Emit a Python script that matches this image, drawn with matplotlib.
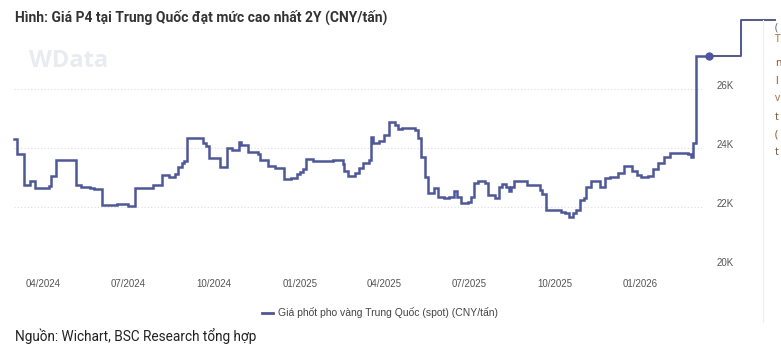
import matplotlib
matplotlib.use("Agg")
import matplotlib.pyplot as plt
import matplotlib.dates as mdates
import matplotlib.transforms as mtrans
from matplotlib.lines import Line2D
import pandas as pd

# ---- data (step breakpoints) ----
dates = [
    "2024-03-01", "2024-03-04", "2024-03-12", "2024-03-18", "2024-03-24", "2024-04-08",
    "2024-04-10", "2024-04-15", "2024-05-06", "2024-05-12", "2024-05-21", "2024-05-26",
    "2024-06-03", "2024-06-19", "2024-07-01", "2024-07-09", "2024-07-28", "2024-08-06",
    "2024-08-14", "2024-08-20", "2024-08-24", "2024-08-28", "2024-08-30", "2024-09-02",
    "2024-09-19", "2024-09-23", "2024-09-26", "2024-10-08", "2024-10-15", "2024-10-21",
    "2024-10-28", "2024-10-30", "2024-11-07", "2024-11-17", "2024-11-19", "2024-11-28",
    "2024-12-06", "2024-12-15", "2024-12-23", "2024-12-29", "2025-01-01", "2025-01-05",
    "2025-01-08", "2025-01-15", "2025-02-06", "2025-02-16", "2025-02-18", "2025-02-22",
    "2025-03-01", "2025-03-05", "2025-03-10", "2025-03-16", "2025-03-18", "2025-03-20",
    "2025-03-27", "2025-04-01", "2025-04-07", "2025-04-13", "2025-04-16", "2025-04-21",
    "2025-05-05", "2025-05-08", "2025-05-11", "2025-05-15", "2025-05-18", "2025-05-25",
    "2025-05-29", "2025-06-05", "2025-06-10", "2025-06-15", "2025-06-19", "2025-06-23",
    "2025-06-30", "2025-07-04", "2025-07-07", "2025-07-11", "2025-07-19", "2025-07-22",
    "2025-07-29", "2025-08-03", "2025-08-06", "2025-08-10", "2025-08-13", "2025-08-15",
    "2025-08-19", "2025-09-01", "2025-09-15", "2025-09-18", "2025-09-22", "2025-10-08",
    "2025-10-12", "2025-10-16", "2025-10-21", "2025-10-24", "2025-10-28", "2025-11-02",
    "2025-11-04", "2025-11-09", "2025-11-19", "2025-11-24", "2025-11-29", "2025-12-08",
    "2025-12-14", "2025-12-23", "2025-12-28", "2026-01-02", "2026-01-09", "2026-01-14",
    "2026-01-20", "2026-01-26", "2026-02-02", "2026-02-21", "2026-02-24", "2026-02-26",
    "2026-03-02", "2026-03-15",
]
prices = [
    24300, 23800, 22760, 22900, 22670, 22720,
    23060, 23590, 22760, 22700, 22650, 22610,
    22080, 22120, 22040, 22650, 22760, 23100,
    23040, 23130, 23380, 23490, 23580, 24360,
    24190, 24080, 23660, 23380, 24000, 23940,
    24200, 24110, 23870, 23810, 23600, 23400,
    23340, 22950, 22990, 23130, 23200, 23290,
    23630, 23570, 23600, 23470, 23230, 23060,
    23170, 23320, 23490, 23600, 24390, 24190,
    24260, 24450, 24890, 24790, 24670, 24700,
    24620, 24340, 23720, 23040, 22500, 22640,
    22360, 22320, 22360, 22560, 22340, 22140,
    22190, 22340, 22830, 22900, 22810, 22420,
    22300, 22700, 22780, 22680, 22560, 22680,
    22890, 22760, 22590, 22450, 21910, 21850,
    21790, 21680, 21790, 21910, 22250, 22300,
    22700, 22900, 22680, 22980, 23020, 23170,
    23400, 23240, 23100, 23020, 23060, 23290,
    23490, 23700, 23830, 23800, 23720, 24170,
    27130, 27130,
]
series_name = "Giá phốt pho vàng Trung Quốc (spot) (CNY/tấn)"
y_ticks = [20000, 22000, 24000, 26000]
y_tick_labels = ["20K", "22K", "24K", "26K"]
x_tick_dates = ["2024-04-01", "2024-07-01", "2024-10-01", "2025-01-01",
                "2025-04-01", "2025-07-01", "2025-10-01", "2026-01-01"]
title = "Hình: Giá P4 tại Trung Quốc đạt mức cao nhất 2Y (CNY/tấn)"
source = "Nguồn: Wichart, BSC Research tổng hợp"
# only the first glyph of each tooltip line is visible at the picture's right edge
tooltip_glyphs = ["(", "T", "n", "l", "v", "t", "(", "t"]

LINE = "#4c56a6"
W, H = 781, 354

fig = plt.figure(figsize=(W / 100, H / 100), dpi=100)
fig.patch.set_facecolor("white")

left_px, right_px = 14, 703
bottom_px, top_px = 266.3, 45.05
ax = fig.add_axes([left_px / W, 1 - bottom_px / H,
                   (right_px - left_px) / W, (bottom_px - top_px) / H])

x = pd.to_datetime(dates)
ax.plot(x, prices, drawstyle="steps-post", color=LINE, lw=1.8,
        solid_joinstyle="miter", clip_on=False, zorder=3)
ax.plot(x[-1:], prices[-1:], "o", color=LINE, ms=5, clip_on=False, zorder=4)

ax.set_xlim(pd.Timestamp("2024-03-01"), pd.Timestamp("2026-03-09"))
ax.set_ylim(20000, 27500)

for s in ax.spines.values():
    s.set_visible(False)

ax.set_yticks(y_ticks)
ax.set_yticklabels(y_tick_labels)
ax.yaxis.tick_right()
ax.tick_params(axis="y", length=0, pad=9.5, labelsize=7, labelcolor="#555555")
off = mtrans.ScaledTranslation(0, 3 / 72, fig.dpi_scale_trans)
for lab in ax.get_yticklabels():
    lab.set_transform(lab.get_transform() + off)
    lab.set_family(["Liberation Sans", "DejaVu Sans"])

ax.grid(axis="y", color="#dddddd", linestyle=(0, (1, 2)), lw=0.8)
ax.set_axisbelow(True)

ax.set_xticks(pd.to_datetime(x_tick_dates))
ax.xaxis.set_major_formatter(mdates.DateFormatter("%m/%Y"))
ax.tick_params(axis="x", length=0, pad=9.5, labelsize=7, labelcolor="#555555")
for lab in ax.get_xticklabels():
    lab.set_family(["Liberation Sans", "DejaVu Sans"])


def fx(px):
    return px / W


def fy(py):
    return 1 - py / H


# title
fig.text(fx(15), fy(17), title, fontsize=10, fontweight="bold", color="#333333",
         va="center", ha="left", family=["Roboto", "DejaVu Sans"])

# watermark
fig.text(fx(29), fy(61), "WData", fontsize=17, fontweight="bold", color="#e9ebf1",
         va="center", ha="left", family=["Open Sans", "DejaVu Sans"], zorder=0)

# annotation connector from last point
fig.add_artist(Line2D([fx(709.3), fx(741), fx(741), fx(775)],
                      [fy(56), fy(56), fy(20), fy(20)], color=LINE, lw=1.4))
# faint right border line
fig.add_artist(Line2D([fx(763), fx(763)], [fy(20), fy(322)], color="#eeeeee", lw=0.8))

# tooltip glyphs at right edge
glyph_rows = [28, 39, 63, 81, 99, 117, 135, 153]
glyph_cols = [LINE, "#b8651b", "#8a4a1c", "#8a4a1c", "#b8651b", "#8a4a1c", "#8a4a1c", "#8a4a1c"]
for g, py, col in zip(tooltip_glyphs, glyph_rows, glyph_cols):
    fig.text(fx(775), fy(py), g, fontsize=7.5, color=col, va="center", ha="left",
             family=["Open Sans", "DejaVu Sans"])

# legend
fig.add_artist(Line2D([fx(262), fx(273)], [fy(313), fy(313)], color=LINE, lw=2))
fig.text(fx(278), fy(313), series_name, fontsize=7.5, color="#444444",
         va="center", ha="left", family=["Liberation Sans", "DejaVu Sans"])

# source
fig.text(fx(15), fy(336), source, fontsize=9.8, color="#222222",
         va="center", ha="left", family=["Roboto", "DejaVu Sans"])

fig.savefig("out.png", dpi=100, facecolor="white")
